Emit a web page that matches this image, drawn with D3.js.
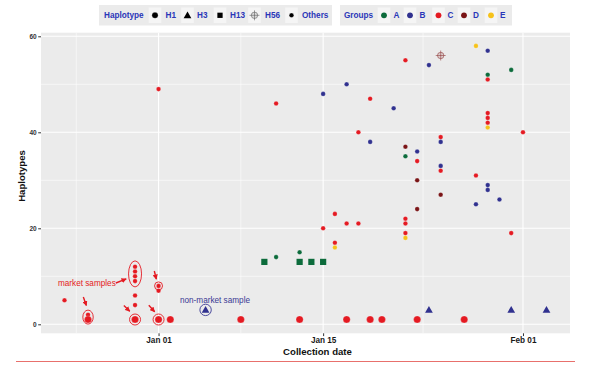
<!DOCTYPE html>
<html><head><meta charset="utf-8">
<script src="https://cdn.jsdelivr.net/npm/d3@7"></script>
<style>
html,body{margin:0;padding:0;background:#fff;}
svg{display:block;font-family:"Liberation Sans",Arial,sans-serif;}
</style></head>
<body>
<svg id="chart" width="600" height="368"></svg>
<script>
// ---------------- data ----------------
const dates = [
 "2019-12-24","2019-12-26","2019-12-26",
 "2019-12-30","2019-12-30","2019-12-30","2019-12-30","2019-12-30","2019-12-30","2019-12-30",
 "2020-01-01","2020-01-01","2020-01-01","2020-01-01",
 "2020-01-02","2020-01-05","2020-01-08","2020-01-10",
 "2020-01-11","2020-01-11",
 "2020-01-13","2020-01-13","2020-01-13",
 "2020-01-14",
 "2020-01-15","2020-01-15","2020-01-15",
 "2020-01-16","2020-01-16","2020-01-16",
 "2020-01-17","2020-01-17","2020-01-17",
 "2020-01-18","2020-01-18",
 "2020-01-19","2020-01-19","2020-01-19",
 "2020-01-20","2020-01-21",
 "2020-01-22","2020-01-22","2020-01-22","2020-01-22","2020-01-22","2020-01-22","2020-01-22",
 "2020-01-23","2020-01-23","2020-01-23","2020-01-23","2020-01-23",
 "2020-01-24","2020-01-24",
 "2020-01-25","2020-01-25","2020-01-25","2020-01-25","2020-01-25","2020-01-25",
 "2020-01-27",
 "2020-01-28","2020-01-28","2020-01-28",
 "2020-01-29","2020-01-29","2020-01-29","2020-01-29","2020-01-29","2020-01-29","2020-01-29","2020-01-29","2020-01-29",
 "2020-01-30",
 "2020-01-31","2020-01-31","2020-01-31",
 "2020-02-01","2020-02-03"
];
const values = [
 5,2,1,
 12,11,10,9,6,4,1,
 49,8,7,1,
 1,3,1,13,
 46,14,
 15,13,1,
 13,
 48,20,13,
 23,17,16,
 50,21,1,
 40,21,
 47,38,1,
 1,45,
 55,37,35,22,21,19,18,
 36,34,30,24,1,
 54,3,
 56,39,38,33,32,27,
 1,
 58,31,25,
 57,52,51,44,43,42,41,29,28,
 26,
 53,19,3,
 40,3
];
const haplotypes = [
 "Others","Others","H1",
 "Others","Others","Others","Others","Others","Others","H1",
 "Others","Others","Others","H1",
 "H1","H3","H1","H13",
 "Others","Others",
 "Others","H13","H1",
 "H13",
 "Others","Others","H13",
 "Others","Others","Others",
 "Others","Others","H1",
 "Others","Others",
 "Others","Others","H1",
 "H1","Others",
 "Others","Others","Others","Others","Others","Others","Others",
 "Others","Others","Others","Others","H1",
 "Others","H3",
 "H56","Others","Others","Others","Others","Others",
 "H1",
 "Others","Others","Others",
 "Others","Others","Others","Others","Others","Others","Others","Others","Others",
 "Others",
 "Others","Others","H3",
 "Others","H3"
];
const groups = [
 "C","C","C",
 "C","C","C","C","C","C","C",
 "C","C","C","C",
 "C","B","C","A",
 "C","A",
 "A","A","C",
 "A",
 "B","C","A",
 "C","C","E",
 "B","C","C",
 "C","C",
 "C","B","C",
 "C","B",
 "C","D","A","C","C","C","E",
 "B","C","D","D","C",
 "B","B",
 "D","C","B","B","C","D",
 "C",
 "E","C","B",
 "B","A","C","C","C","C","E","B","B",
 "B",
 "A","C","B",
 "C","B"
];

const groupNames = ["A","B","C","D","E"];
const groupColors = ["#0c6b3b","#30318f","#e41a22","#7a1416","#f6c21a"];
const haplotypeNames = ["H1","H3","H13","H56","Others"];
const xTickDates = ["2020-01-01","2020-01-15","2020-02-01"];
const xTickLabels = ["Jan 01","Jan 15","Feb 01"];
const xMinorDates = ["2019-12-25T00:00","2020-01-08T00:00","2020-01-23T12:00"];
const yTicks = [0,20,40,60];
const yMinor = [10,30,50];

// annotations (data coordinates)
const marketRings = [ // date, value centre, rx px, ry px
 ["2019-12-26",1.5,5.2,7],["2019-12-30",10.5,6.5,13],["2019-12-30",1,5.5,5.5],
 ["2020-01-01",8,4,4],["2020-01-01",1,5.5,5.5]
];
const marketArrows = [ // from day, from value, to day, to value (days relative to Jan 01)
 [-6.4,5.7,-6.14,3.9],[-3.63,8.6,-2.75,9.45],[-2.95,3.9,-2.45,2.7],
 [-0.36,11.1,-0.19,9.4],[-0.83,3.95,-0.33,2.6]
];
const nonMarketRing = ["2020-01-05",3,5.7];
const marketLabel = {day:-6.1, value:8.65, text:"market samples"};
const nonMarketLabel = {day:4.8, value:5.1, text:"non-market sample"};

// ---------------- chart ----------------
const svg = d3.select("#chart");
const panel = {left:41, right:570, top:32.7, bottom:333.3};
const parse = s => new Date(s.length>10 ? s+"Z" : s+"T00:00Z");
const x = d3.scaleUtc().domain([parse("2019-12-22"), parse("2020-02-05")]).range([panel.left, panel.right]);
const y = d3.scaleLinear().domain([-1.875, 60.75]).range([panel.bottom, panel.top]);
const jan1 = parse("2020-01-01").getTime();
const xDay = d => x(new Date(jan1 + d*86400000));
const color = d3.scaleOrdinal().domain(groupNames).range(groupColors);

svg.append("rect").attr("x",panel.left).attr("y",panel.top)
  .attr("width",panel.right-panel.left).attr("height",panel.bottom-panel.top).attr("fill","#ebebeb");

const grid = svg.append("g");
grid.selectAll(".ymin").data(yMinor).enter().append("line")
  .attr("x1",panel.left).attr("x2",panel.right).attr("y1",d=>y(d)).attr("y2",d=>y(d))
  .attr("stroke","#fff").attr("stroke-width",0.55);
grid.selectAll(".xmin").data(xMinorDates).enter().append("line")
  .attr("y1",panel.top).attr("y2",panel.bottom).attr("x1",d=>x(parse(d))).attr("x2",d=>x(parse(d)))
  .attr("stroke","#fff").attr("stroke-width",0.55);
grid.selectAll(".ymaj").data(yTicks).enter().append("line")
  .attr("x1",panel.left).attr("x2",panel.right).attr("y1",d=>y(d)).attr("y2",d=>y(d))
  .attr("stroke","#fff").attr("stroke-width",1.1);
grid.selectAll(".xmaj").data(xTickDates).enter().append("line")
  .attr("y1",panel.top).attr("y2",panel.bottom).attr("x1",d=>x(parse(d))).attr("x2",d=>x(parse(d)))
  .attr("stroke","#fff").attr("stroke-width",1.1);

const yAxis = d3.axisLeft(y).tickValues(yTicks).tickSize(2.8).tickPadding(1.5);
const gy = svg.append("g").attr("transform",`translate(${panel.left},0)`).call(yAxis);
gy.select(".domain").remove();
gy.selectAll("line").attr("stroke","#333");
gy.selectAll("text").attr("font-size",6.5).attr("font-weight","bold").attr("fill","#333")
  .attr("font-family","Liberation Sans, Arial, sans-serif");

const xAxis = d3.axisBottom(x).tickValues(xTickDates.map(parse))
  .tickFormat((d,i)=>xTickLabels[i]).tickSize(2.8).tickPadding(1.5);
const gx = svg.append("g").attr("transform",`translate(0,${panel.bottom})`).call(xAxis);
gx.select(".domain").remove();
gx.selectAll("line").attr("stroke","#333");
gx.selectAll("text").attr("font-size",8.2).attr("font-weight","bold").attr("fill","#1a1a1a")
  .attr("font-family","Liberation Sans, Arial, sans-serif");

svg.append("text").attr("x",(panel.left+panel.right)/2+12).attr("y",354.5)
  .attr("text-anchor","middle").attr("font-size",9.6).attr("font-weight","bold").attr("fill","#111")
  .text("Collection date");
svg.append("text").attr("transform",`translate(25,${(panel.top+panel.bottom)/2-7}) rotate(-90)`)
  .attr("text-anchor","middle").attr("font-size",9.6).attr("font-weight","bold").attr("fill","#111")
  .text("Haplotypes");

svg.append("line").attr("x1",16).attr("x2",575).attr("y1",361.5).attr("y2",361.5)
  .attr("stroke","#e8706c").attr("stroke-width",1.1);

const pts = dates.map((d,i)=>({date:parse(d), value:values[i], hap:haplotypes[i], group:groups[i]}));
const gp = svg.append("g");
function drawShape(g, hap, fill, cx, cy, scale){
  scale = scale || 1;
  if(hap==="Others"){
    g.append("circle").attr("cx",cx).attr("cy",cy).attr("r",2.3*scale).attr("fill",fill)
      .attr("stroke","#fff").attr("stroke-opacity",0.45).attr("stroke-width",0.5);
  } else if(hap==="H1"){
    g.append("circle").attr("cx",cx).attr("cy",cy).attr("r",3.6*scale).attr("fill",fill)
      .attr("stroke","#fff").attr("stroke-opacity",0.45).attr("stroke-width",0.5);
  } else if(hap==="H3"){
    g.append("path").attr("transform",`translate(${cx},${cy+0.6})`)
      .attr("d",d3.symbol(d3.symbolTriangle, 26*scale*scale)()).attr("fill",fill);
  } else if(hap==="H13"){
    const s=6.2*scale;
    g.append("rect").attr("x",cx-s/2).attr("y",cy-s/2).attr("width",s).attr("height",s).attr("fill",fill);
  } else if(hap==="H56"){
    const r=3.2*scale, L=5*scale;
    g.append("circle").attr("cx",cx).attr("cy",cy).attr("r",r).attr("fill",fill).attr("fill-opacity",0.15)
      .attr("stroke",fill).attr("stroke-opacity",0.6).attr("stroke-width",0.9);
    g.append("line").attr("x1",cx-L).attr("x2",cx+L).attr("y1",cy).attr("y2",cy).attr("stroke",fill).attr("stroke-opacity",0.6).attr("stroke-width",0.9);
    g.append("line").attr("x1",cx).attr("x2",cx).attr("y1",cy-L).attr("y2",cy+L).attr("stroke",fill).attr("stroke-opacity",0.6).attr("stroke-width",0.9);
  }
}
pts.forEach(p=>drawShape(gp, p.hap, p.hap==="H56" ? "#8a3030" : color(p.group), x(p.date), y(p.value)));

const red = "#e41a22", annBlue = "#3a3a94";
const ga = svg.append("g");
ga.selectAll("ellipse.m").data(marketRings).enter().append("ellipse")
  .attr("cx",d=>x(parse(d[0]))).attr("cy",d=>y(d[1])).attr("rx",d=>d[2]).attr("ry",d=>d[3])
  .attr("fill","none").attr("stroke",red).attr("stroke-width",0.9);
ga.append("circle").attr("cx",x(parse(nonMarketRing[0]))).attr("cy",y(nonMarketRing[1])).attr("r",nonMarketRing[2])
  .attr("fill","none").attr("stroke",annBlue).attr("stroke-width",0.9);

svg.append("defs").append("marker").attr("id","ah").attr("viewBox","0 0 10 10")
  .attr("refX",9).attr("refY",5).attr("markerWidth",5.2).attr("markerHeight",5.2)
  .attr("markerUnits","userSpaceOnUse").attr("orient","auto")
  .append("path").attr("d","M0,0 L10,5 L0,10 Z").attr("fill",red);
ga.selectAll("line.arr").data(marketArrows).enter().append("line")
  .attr("x1",d=>xDay(d[0])).attr("y1",d=>y(d[1])).attr("x2",d=>xDay(d[2])).attr("y2",d=>y(d[3]))
  .attr("stroke",red).attr("stroke-width",1.4).attr("marker-end","url(#ah)");

ga.append("text").attr("x",xDay(marketLabel.day)).attr("y",y(marketLabel.value)).attr("dy","0.35em")
  .attr("text-anchor","middle").attr("font-size",8.2).attr("fill",red).text(marketLabel.text);
ga.append("text").attr("x",xDay(nonMarketLabel.day)).attr("y",y(nonMarketLabel.value)).attr("dy","0.35em")
  .attr("text-anchor","middle").attr("font-size",8.2).attr("fill",annBlue).text(nonMarketLabel.text);

const legBlue = "#2a36b8";
const lg = svg.append("g");
lg.append("rect").attr("x",99).attr("y",5).attr("width",233).attr("height",20.5).attr("fill","#ebebeb");
lg.append("rect").attr("x",340).attr("y",5).attr("width",172).attr("height",20.5).attr("fill","#ebebeb");
const ly = 15.3;
lg.append("text").attr("x",104).attr("y",ly).attr("dy","0.35em").attr("font-size",8.2).attr("font-weight","bold")
  .attr("fill",legBlue).text("Haplotype");
const hapKeyX = [155,187.5,220,254.5,291.5];
const hapTextX = [165.5,197,230,265,302];
haplotypeNames.forEach((h,i)=>{
  lg.append("rect").attr("x",hapKeyX[i]-6.3).attr("y",7.5).attr("width",12.6).attr("height",15.5).attr("fill","#f5f5f5");
  drawShape(lg, h, h==="H56" ? "#555" : "#000", hapKeyX[i], ly, h==="H1"?0.85:(h==="H13"?0.85:1));
  lg.append("text").attr("x",hapTextX[i]).attr("y",ly).attr("dy","0.35em").attr("font-size",8.2).attr("font-weight","bold")
    .attr("fill",legBlue).text(h);
});
lg.append("text").attr("x",344).attr("y",ly).attr("dy","0.35em").attr("font-size",8.2).attr("font-weight","bold")
  .attr("fill",legBlue).text("Groups");
const grpKeyX = [384,410,438.5,464,491];
const grpTextX = [393.5,419.5,447.5,473,500];
groupNames.forEach((g,i)=>{
  lg.append("rect").attr("x",grpKeyX[i]-6.3).attr("y",7.5).attr("width",12.6).attr("height",15.5).attr("fill","#f5f5f5");
  lg.append("circle").attr("cx",grpKeyX[i]).attr("cy",ly).attr("r",2.9).attr("fill",groupColors[i]);
  lg.append("text").attr("x",grpTextX[i]).attr("y",ly).attr("dy","0.35em").attr("font-size",8.2).attr("font-weight","bold")
    .attr("fill",legBlue).text(g);
});
</script>
</body></html>
